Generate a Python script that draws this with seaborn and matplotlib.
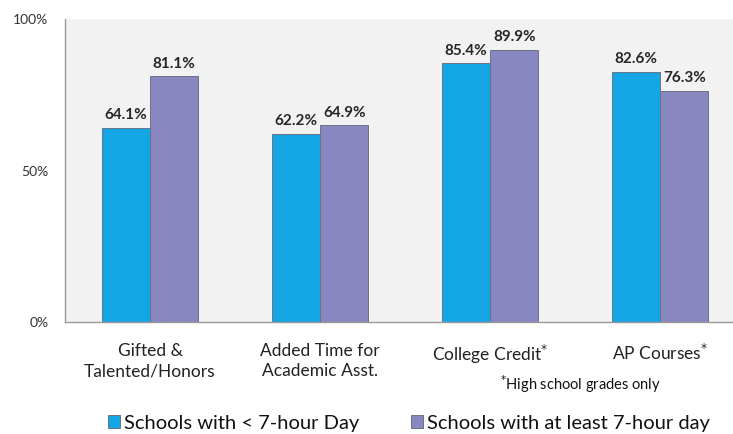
import numpy as np
import pandas as pd
import matplotlib
matplotlib.use("Agg")
import matplotlib.pyplot as plt
import seaborn as sns

categories = ["Gifted &\nTalented/Honors", "Added Time for\nAcademic Asst.",
              "College Credit$^{*}$", "AP Courses$^{*}$"]
series = ["Schools with < 7-hour Day", "Schools with at least 7-hour day"]
short_day = [64.1, 62.2, 85.4, 82.6]
long_day = [81.1, 64.9, 89.9, 76.3]
y_ticks = [0, 50, 100]
y_tick_labels = ["0%", "50%", "100%"]
footnote = "$^{*}$High school grades only"
colors = ["#14a5e4", "#8987c1"]

df = pd.DataFrame({
    "category": categories * 2,
    "group": [series[0]] * 4 + [series[1]] * 4,
    "value": short_day + long_day,
})

sns.set_style("white")
plt.rcParams["font.family"] = ["Lato", "DejaVu Sans"]

fig = plt.figure(figsize=(7.33, 4.34), dpi=100)
ax = fig.add_axes([65 / 733, (434 - 322) / 434, 680 / 733, 303 / 434])
ax.set_facecolor("#f2f2f2")

sns.barplot(data=df, x="category", y="value", hue="group",
            palette=colors, saturation=1, width=0.57, gap=0,
            edgecolor="#6a7384", linewidth=0.7, ax=ax, legend=False)

for cont in ax.containers:
    ax.bar_label(cont, fmt="%.1f%%", padding=4, fontsize=11, fontweight="bold",
                 color="#262626")

ax.set_xlim(-0.5, 3.5)
ax.set_ylim(0, 100)
ax.set_yticks(y_ticks)
ax.set_yticklabels(y_tick_labels, fontsize=10, color="#333333")
ax.set_xticks(range(len(categories)))
ax.set_xticklabels(categories, fontsize=12.5, color="#222222", linespacing=1.35)
ax.set_xticks([-0.5, 0.5, 1.5, 2.5], minor=True)
ax.tick_params(axis="x", which="major", length=0, pad=15)
ax.tick_params(axis="x", which="minor", length=5, color="#888888", direction="out")
ax.tick_params(axis="y", length=5, color="#888888", direction="out", pad=7)
ax.set_xlabel("")
ax.set_ylabel("")
for side in ["top", "right"]:
    ax.spines[side].set_visible(False)
for side in ["left", "bottom"]:
    ax.spines[side].set_color("#999999")
    ax.spines[side].set_linewidth(1)

fig.text(500 / 733, 1 - 384 / 434, footnote, fontsize=10.5, color="#111111",
         va="center", ha="left")

handles = [plt.Rectangle((0, 0), 1, 1, facecolor=c, edgecolor="#6a7384", linewidth=0.7)
           for c in colors]
fig.legend(handles, series, loc="center", bbox_to_anchor=(409 / 733, 1 - 423 / 434),
           ncol=2, frameon=False, fontsize=14.5, handlelength=0.6, handleheight=0.6,
           handletextpad=0.2, columnspacing=2.6, labelcolor="#111111")

fig.savefig("out.png", dpi=100)
